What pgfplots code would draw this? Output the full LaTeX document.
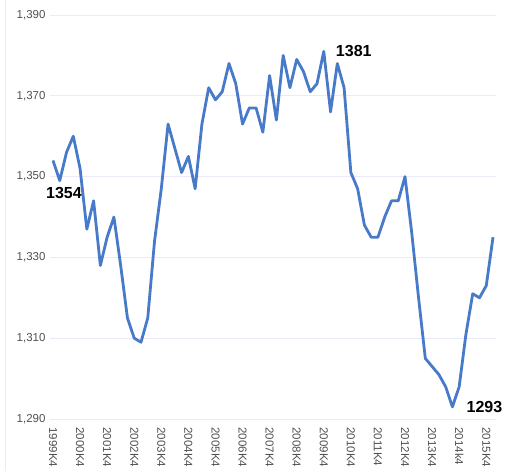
\documentclass[border=0pt]{standalone}
\usepackage{fontspec}
\setmainfont{Liberation Sans}
\usepackage{pgfplots}
\pgfplotsset{compat=1.18}
\definecolor{lineblue}{RGB}{72,122,202}
\definecolor{gridc}{RGB}{234,234,250}
\definecolor{tickc}{RGB}{80,80,80}
\definecolor{edgec}{RGB}{240,230,245}
\pgfplotstableread{
x y
0 1354
1 1349
2 1356
3 1360
4 1352
5 1337
6 1344
7 1328
8 1335
9 1340
10 1328
11 1315
12 1310
13 1309
14 1315
15 1334
16 1347
17 1363
18 1357
19 1351
20 1355
21 1347
22 1363
23 1372
24 1369
25 1371
26 1378
27 1373
28 1363
29 1367
30 1367
31 1361
32 1375
33 1364
34 1380
35 1372
36 1379
37 1376
38 1371
39 1373
40 1381
41 1366
42 1378
43 1372
44 1351
45 1347
46 1338
47 1335
48 1335
49 1340
50 1344
51 1344
52 1350
53 1336
54 1320
55 1305
56 1303
57 1301
58 1298
59 1293
60 1298
61 1311
62 1321
63 1320
64 1323
65 1335
}\datatable
\begin{document}
\begin{tikzpicture}
\path[use as bounding box] (0,0) rectangle (505pt,473pt);
\draw[edgec, line width=0.8pt] (5pt,2pt) -- (5pt,473pt);
\begin{axis}[
  at={(50pt,54pt)}, anchor=south west,
  scale only axis, width=446pt, height=404pt,
  xmin=-0.44, xmax=65.44, ymin=1290, ymax=1390,
  axis line style={draw=none},
  major tick length=0pt,
  ytick={1290,1310,1330,1350,1370,1390},
  ymajorgrids, grid style={gridc, line width=0.9pt},
  xtick={0,4,...,64},
  xticklabels={1999K4,2000K4,2001K4,2002K4,2003K4,2004K4,2005K4,2006K4,2007K4,2008K4,2009K4,2010K4,2011K4,2012K4,2013K4,2014k4,2015K4},
  xticklabel shift=5pt,
  x tick label style={rotate=-90, anchor=west, font=\fontsize{11.5}{12}\selectfont, text=tickc},
  y tick label style={font=\fontsize{11.5}{12}\selectfont, text=tickc},
  yticklabel shift=1pt,
  /pgf/number format/.cd, 1000 sep={,}, assume math mode=true,
  /pgfplots/.cd,
  clip=false,
]
\addplot[lineblue, line width=2.8pt, line join=round, mark=none] table[x=x, y=y] {\datatable};
\addplot[draw=none, mark=none, nodes near coords, point meta=explicit symbolic,
  every node near coord/.append style={anchor=north, xshift=11pt, yshift=-27pt, inner sep=0pt, font=\fontsize{16}{16}\selectfont\bfseries, text=black}]
  coordinates {(0,1354)[1354]};
\addplot[draw=none, mark=none, nodes near coords, point meta=explicit symbolic,
  every node near coord/.append style={anchor=west, xshift=12pt, inner sep=0pt, font=\fontsize{16}{16}\selectfont\bfseries, text=black}]
  coordinates {(40,1381)[1381]};
\addplot[draw=none, mark=none, nodes near coords, point meta=explicit symbolic,
  every node near coord/.append style={anchor=west, xshift=14pt, inner sep=0pt, font=\fontsize{16}{16}\selectfont\bfseries, text=black}]
  coordinates {(59,1293)[1293]};
\end{axis}
\end{tikzpicture}
\end{document}
